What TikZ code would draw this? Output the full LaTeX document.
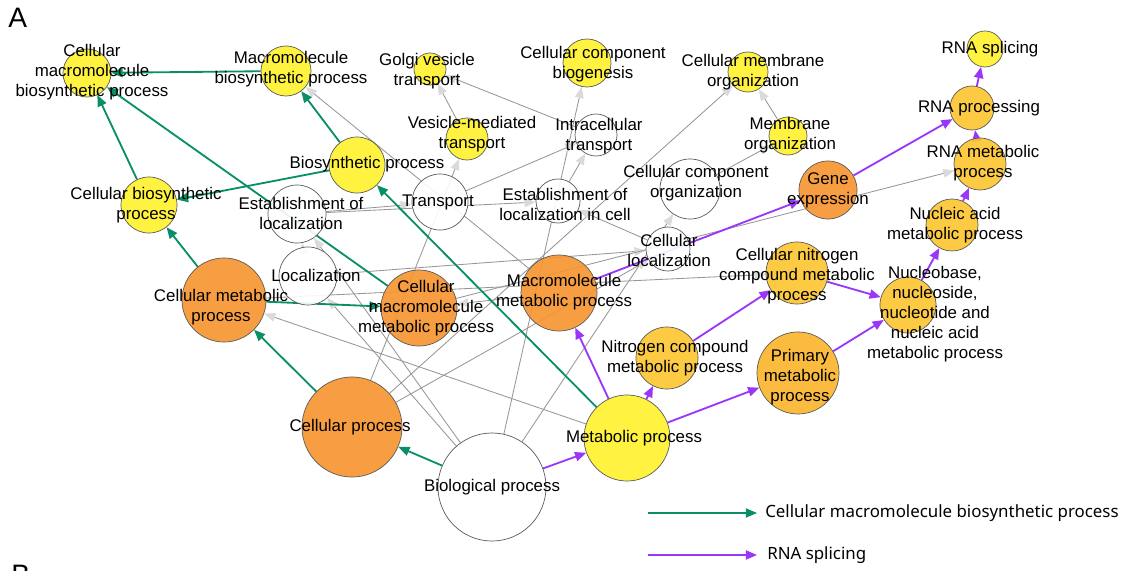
\documentclass[tikz,border=0pt]{standalone}
\usepackage{fontspec}
\setmainfont{Liberation Sans}
\newfontfamily\legendfont{Noto Sans}
\usetikzlibrary{arrows.meta}

\definecolor{goyellow}{RGB}{255,241,43}
\definecolor{goorange}{RGB}{247,148,46}
\definecolor{goamber}{RGB}{253,196,47}
\definecolor{goamberdk}{RGB}{251,180,42}
\definecolor{gogreen}{RGB}{8,143,104}
\definecolor{gopurple}{RGB}{153,54,250}
\definecolor{goedge}{RGB}{150,150,150}
\definecolor{gotip}{RGB}{218,218,218}
\definecolor{goring}{RGB}{90,90,90}

\pgfdeclarelayer{edges}
\pgfdeclarelayer{texts}
\pgfsetlayers{edges,main,texts}

\tikzset{
  term/.style={circle, draw=goring, line width=0.5pt, fill=#1, fill opacity=0.9, inner sep=0pt},
  tsize/.style={minimum size=#1*0.05cm},
  tlabel/.style={align=center, font=\fontsize{12}{14.2}\selectfont, inner sep=0pt},
  grayedge/.style={draw=goedge, line width=0.6pt, -{Triangle[length=2.8mm,width=2.2mm,color=gotip]}},
  greenpath/.style={draw=gogreen, line width=1.3pt, -{Triangle[length=2.8mm,width=2.3mm]}},
  purplepath/.style={draw=gopurple, line width=1.3pt, -{Triangle[length=2.8mm,width=2.3mm]}},
  legendtext/.style={anchor=west, inner sep=0pt, font=\legendfont\fontsize{12}{14}\selectfont},
}

\begin{document}
\begin{tikzpicture}[x=0.025cm,y=-0.025cm]
\useasboundingbox (0,0) rectangle (1133,571);

% Panel letters
\node[anchor=base west, inner sep=0pt, font=\fontsize{20}{24}\selectfont] (panel-a) at (8,28) {A};
\node[anchor=base west, inner sep=0pt, font=\fontsize{20}{24}\selectfont] (panel-b) at (11,584) {B};

% Top row of terms
\node[term=goyellow, tsize=24] (cmbp) at (87,73) {};
\node[term=goyellow, tsize=25] (mbp) at (286,71) {};
\node[term=goyellow, tsize=16] (golgi) at (430,69) {};
\node[term=goyellow, tsize=24] (ccb) at (587,63) {};
\node[term=goyellow, tsize=20] (cmo) at (748,72) {};
\node[term=goyellow, tsize=18] (rnasp) at (985,49) {};
\node[term=goamber, tsize=22] (rnapr) at (972,108) {};

% Second row
\node[term=goyellow, tsize=21] (vmt) at (467,139) {};
\node[term=white, tsize=21] (ict) at (596,135) {};
\node[term=goyellow, tsize=19] (mo) at (788,136) {};
\node[term=goyellow, tsize=28] (bsp) at (357,165) {};
\node[term=white, tsize=30] (cco) at (690,189) {};
\node[term=goorange, tsize=29] (gex) at (828,190) {};
\node[term=goamber, tsize=26] (rnamp) at (980,164) {};

% Middle row
\node[term=goyellow, tsize=28] (cbp) at (149,205) {};
\node[term=white, tsize=29] (eol) at (297,214) {};
\node[term=white, tsize=28] (trn) at (440,202) {};
\node[term=white, tsize=22] (eolc) at (558,201) {};
\node[term=goamber, tsize=26] (namp) at (952,225) {};
\node[term=white, tsize=22] (cloc) at (668,249) {};
\node[term=white, tsize=29] (loc) at (308,276) {};

% Metabolic terms
\node[term=goorange, tsize=42] (cmp) at (224,300) {};
\node[term=goorange, tsize=38] (cmmp) at (419,308) {};
\node[term=goorange, tsize=38] (mmp) at (559,293) {};
\node[term=goamber, tsize=31] (cncmp) at (797,273) {};
\node[term=goamber, tsize=28] (nnn) at (908,305) {};
\node[term=goamber, tsize=31] (ncmp) at (667,358) {};
\node[term=goamberdk, tsize=41] (pmp) at (798,373) {};

% Bottom row
\node[term=goorange, tsize=50] (cp) at (352,427) {};
\node[term=goyellow, tsize=43] (mp) at (627,438) {};
\node[term=white, tsize=54] (bp) at (492,487) {};

\begin{pgfonlayer}{edges}
% Gray is_a links
\draw[grayedge] (bp) -- (loc);
\draw[grayedge] (bp) -- (eol);
\draw[grayedge] (bp) -- (ccb);
\draw[grayedge] (bp) -- (cco);
\draw[grayedge] (loc) -- (eol);
\draw[grayedge] (loc) -- (cloc);
\draw[grayedge] (eol) -- (trn);
\draw[grayedge] (eol) -- (eolc);
\draw[grayedge] (trn) -- (ict);
\draw[grayedge] (eolc) -- (ict);
\draw[grayedge] (ict) -- (golgi);
\draw[grayedge] (vmt) -- (golgi);
\draw[grayedge] (cp) -- (vmt);
\draw[grayedge] (cp) -- (cloc);
\draw[grayedge] (cp) -- (cmo);
\draw[grayedge] (cloc) -- (eolc);
\draw[grayedge] (cco) -- (mo);
\draw[grayedge] (mo) -- (cmo);
\draw[grayedge] (mmp) -- (mbp);
\draw[grayedge] (mmp) -- (cmmp);
\draw[grayedge] (cmmp) -- (rnamp);
\draw[grayedge] (cmp) -- (cncmp);
\draw[grayedge] (mp) -- (cmp);

% Path to cellular macromolecule biosynthetic process
\draw[greenpath] (bp) -- (cp);
\draw[greenpath] (cp) -- (cmp);
\draw[greenpath] (cmp) -- (cbp);
\draw[greenpath] (cmp) -- (cmmp);
\draw[greenpath] (cbp) -- (cmbp);
\draw[greenpath] (bsp) -- (cbp);
\draw[greenpath] (mp) -- (bsp);
\draw[greenpath] (bsp) -- (mbp);
\draw[greenpath] (mbp) -- (cmbp);
\draw[greenpath] (cmmp) -- (cmbp);

% Path to RNA splicing
\draw[purplepath] (bp) -- (mp);
\draw[purplepath] (mp) -- (mmp);
\draw[purplepath] (mp) -- (ncmp);
\draw[purplepath] (mp) -- (pmp);
\draw[purplepath] (ncmp) -- (cncmp);
\draw[purplepath] (cncmp) -- (nnn);
\draw[purplepath] (pmp) -- (nnn);
\draw[purplepath] (nnn) -- (namp);
\draw[purplepath] (namp) -- (rnamp);
\draw[purplepath] (rnamp) -- (rnapr);
\draw[purplepath] (rnapr) -- (rnasp);
\draw[purplepath] (mmp) -- (gex);
\draw[purplepath] (gex) -- (rnapr);
\end{pgfonlayer}

\begin{pgfonlayer}{texts}
% Term names
\node[tlabel] (cmbp-t) at (92,72) {Cellular\\macromolecule\\biosynthetic process};
\node[tlabel] (mbp-t) at (291,69) {Macromolecule\\biosynthetic process};
\node[tlabel] (golgi-t) at (427,71) {Golgi vesicle\\transport};
\node[tlabel] (ccb-t) at (593,64) {Cellular component\\biogenesis};
\node[tlabel] (cmo-t) at (753,72) {Cellular membrane\\organization};
\node[tlabel] (rnasp-t) at (990,49) {RNA splicing};
\node[tlabel] (rnapr-t) at (979,108) {RNA processing};
\node[tlabel] (vmt-t) at (472,134) {Vesicle-mediated\\transport};
\node[tlabel] (ict-t) at (599,136) {Intracellular\\transport};
\node[tlabel] (mo-t) at (790,135) {Membrane\\organization};
\node[tlabel] (bsp-t) at (367,164) {Biosynthetic process};
\node[tlabel] (cco-t) at (696,183) {Cellular component\\organization};
\node[tlabel] (gex-t) at (828,190) {Gene\\expression};
\node[tlabel] (rnamp-t) at (983,163) {RNA metabolic\\process};
\node[tlabel] (cbp-t) at (146,205) {Cellular biosynthetic\\process};
\node[tlabel] (eol-t) at (301,213) {Establishment of\\localization};
\node[tlabel] (trn-t) at (438,202) {Transport};
\node[tlabel] (eolc-t) at (565,204) {Establishment of\\localization in cell};
\node[tlabel] (namp-t) at (955,225) {Nucleic acid\\metabolic process};
\node[tlabel] (cloc-t) at (669,250) {Cellular\\localization};
\node[tlabel] (loc-t) at (316,275) {Localization};
\node[tlabel] (cmp-t) at (221,307) {Cellular metabolic\\process};
\node[tlabel] (cmmp-t) at (426,308) {Cellular\\macromolecule\\metabolic process};
\node[tlabel] (mmp-t) at (564,292) {Macromolecule\\metabolic process};
\node[tlabel] (cncmp-t) at (797,276) {Cellular nitrogen\\compound metabolic\\process};
\node[tlabel] (nnn-t) at (935,314) {Nucleobase,\\nucleoside,\\nucleotide and\\nucleic acid\\metabolic process};
\node[tlabel] (ncmp-t) at (675,358) {Nitrogen compound\\metabolic process};
\node[tlabel] (pmp-t) at (800,377) {Primary\\metabolic\\process};
\node[tlabel] (cp-t) at (350,427) {Cellular process};
\node[tlabel] (mp-t) at (634,438) {Metabolic process};
\node[tlabel] (bp-t) at (492,487) {Biological process};
\end{pgfonlayer}

% Legend
\coordinate (lg-g1) at (648,513);
\coordinate (lg-g2) at (757,513);
\coordinate (lg-p1) at (648,555);
\coordinate (lg-p2) at (757,555);
\draw[greenpath, line width=1pt] (lg-g1) -- (lg-g2);
\draw[purplepath, line width=1.2pt] (lg-p1) -- (lg-p2);
\node[legendtext] (lg-gt) at (765,513) {Cellular macromolecule biosynthetic process};
\node[legendtext] (lg-pt) at (767,555) {RNA splicing};
\end{tikzpicture}
\end{document}
